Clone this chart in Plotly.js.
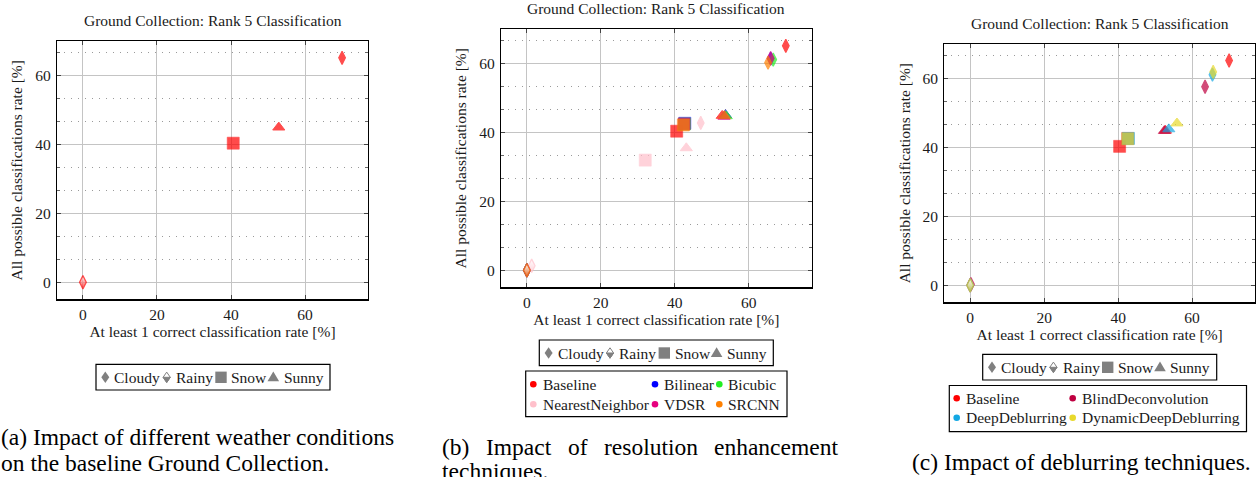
<!DOCTYPE html>
<html>
<head>
<meta charset="utf-8">
<script src="https://cdn.plot.ly/plotly-3.0.1.min.js"></script>
<style>html,body{margin:0;padding:0;background:#fff;}#chart{width:1256px;height:477px;}</style>
</head>
<body>
<div id="chart"></div>
<script>
// ---------------- data ----------------
const weathers = ['Cloudy', 'Rainy', 'Snow', 'Sunny'];
const xTickVals = [0, 20, 40, 60];
const chartTitle = 'Ground Collection: Rank 5 Classification';
const xTitle = 'At least 1 correct classification rate [%]';
const yTitle = 'All possible classifications rate [%]';

// (a) baseline only
const aBaselineX = [70.0, 0.0, 40.6, 52.9];
const aBaselineY = [65.2, 0.0, 40.4, 45.0];

// (b) resolution enhancement
const bMethods = ['Baseline', 'Bilinear', 'Bicubic', 'NearestNeighbor', 'VDSR', 'SRCNN'];
const bBaselineX = [70.0, 0.0, 40.5, 52.8];
const bBaselineY = [65.2, 0.0, 40.4, 44.9];
const bBilinearX = [65.9, 0.0, 42.7, 53.7];
const bBilinearY = [61.5, 0.0, 42.7, 45.1];
const bBicubicX = [66.6, 0.0, 42.6, 53.9];
const bBicubicY = [61.2, 0.0, 42.5, 44.8];
const bNearestX = [47.0, 1.3, 32.0, 43.1];
const bNearestY = [42.8, 1.3, 32.0, 35.5];
const bVDSRX = [65.9, 0.0, 42.5, 53.3];
const bVDSRY = [61.6, 0.0, 42.5, 44.6];
const bSRCNNX = [65.2, 0.0, 42.3, 53.4];
const bSRCNNY = [60.3, 0.0, 42.2, 44.9];

// (c) deblurring
const cMethods = ['Baseline', 'BlindDeconvolution', 'DeepDeblurring', 'DynamicDeepDeblurring'];
const cBaselineX = [70.0, 0.0, 40.4, 52.8];
const cBaselineY = [65.2, 0.0, 40.3, 44.9];
const cBlindX = [63.5, 0.2, 42.6, 52.5];
const cBlindY = [57.6, 0.3, 42.6, 44.8];
const cDeepX = [65.5, 0.0, 42.8, 53.7];
const cDeepY = [61.1, 0.0, 42.6, 45.3];
const cDynamicX = [65.7, 0.0, 42.6, 55.9];
const cDynamicY = [61.9, 0.0, 42.5, 47.0];

const captionA1 = '(a) Impact of different weather conditions';
const captionA2 = 'on the baseline Ground Collection.';
const captionB1 = ['(b)', 'Impact', 'of', 'resolution', 'enhancement'];
const captionB2 = 'techniques.';
const captionC = '(c) Impact of deblurring techniques.';

// ---------------- styles ----------------
const COL = {
  Baseline: '#ff0000', Bilinear: '#0000ff', Bicubic: '#22ee22', NearestNeighbor: '#ffc0cb',
  VDSR: '#e6007e', SRCNN: '#ff8000', BlindDeconvolution: '#bf0040',
  DeepDeblurring: '#13a8e4', DynamicDeepDeblurring: '#e8d92c'
};
const W = 1256, H = 477;
const px = x => x / W, py = y => 1 - y / H;
const FONT = "'Liberation Serif', 'Times New Roman', serif";
const TXT = '#1a1a1a';
const FS = 15.5;
const CFS = 23.5;

// Cloudy: diamond, Rainy: half-filled diamond (gradient), Snow: square, Sunny: triangle
const symbols = ['diamond-tall', 'diamond-tall', 'square', 'triangle-up'];
const sizes = [9.5, 9.5, 12, 10.5];
const lws = [1.2, 1.3, 0.6, 1];

function trace(name, xs, ys, axIdx) {
  const s = axIdx === 1 ? '' : String(axIdx);
  const c = COL[name];
  return {
    type: 'scatter', mode: 'markers', name, x: xs, y: ys, xaxis: 'x' + s, yaxis: 'y' + s,
    showlegend: false, hoverinfo: 'skip', text: weathers,
    marker: {
      symbol: symbols, size: sizes, color: [c, '#ffffff', c, c],
      gradient: { type: ['none', 'vertical', 'none', 'none'], color: c },
      line: { color: c, width: lws }
    }
  };
}

const data = [
  trace('Baseline', aBaselineX, aBaselineY, 1),
  trace('Baseline', bBaselineX, bBaselineY, 2),
  trace('Bilinear', bBilinearX, bBilinearY, 2),
  trace('Bicubic', bBicubicX, bBicubicY, 2),
  trace('NearestNeighbor', bNearestX, bNearestY, 2),
  trace('VDSR', bVDSRX, bVDSRY, 2),
  trace('SRCNN', bSRCNNX, bSRCNNY, 2),
  trace('Baseline', cBaselineX, cBaselineY, 3),
  trace('BlindDeconvolution', cBlindX, cBlindY, 3),
  trace('DeepDeblurring', cDeepX, cDeepY, 3),
  trace('DynamicDeepDeblurring', cDynamicX, cDynamicY, 3)
];

const panels = [
  { l: 57, r: 368, t: 41.3, b: 299.3 },
  { l: 501, r: 811.7, t: 29.3, b: 287.3 },
  { l: 944.3, r: 1255, t: 44, b: 302.3 }
];

function xax(p, anchor) {
  return {
    domain: [px(p.l), px(p.r)], anchor, range: [-7, 77],
    tickmode: 'array', tickvals: xTickVals, ticktext: xTickVals.map(String),
    showgrid: true, gridcolor: '#c4c4c4', gridwidth: 1, zeroline: false,
    showline: true, mirror: 'ticks', linecolor: '#000', linewidth: 1.2,
    ticks: 'inside', ticklen: 4, tickcolor: '#444', tickwidth: 1,
    ticklabelstandoff: 1,
    tickfont: { family: FONT, size: FS, color: TXT },
    title: { text: xTitle, font: { family: FONT, size: FS, color: TXT }, standoff: 3 },
    automargin: false, fixedrange: true
  };
}
function yax(p, anchor) {
  return {
    domain: [py(p.b), py(p.t)], anchor, range: [-4.95, 70],
    tickmode: 'linear', tick0: 0, dtick: 20,
    showgrid: true, gridcolor: '#c4c4c4', gridwidth: 1, zeroline: false,
    showline: true, mirror: 'ticks', linecolor: '#000', linewidth: 1.2,
    ticks: 'inside', ticklen: 4, tickcolor: '#444', tickwidth: 1,
    minor: { tick0: 0, dtick: 20 / 3, showgrid: true, gridcolor: '#9a9a9a', griddash: '1px,6px', gridwidth: 1, ticks: 'inside', ticklen: 3, tickcolor: '#666' },
    ticklabelstandoff: 2,
    tickfont: { family: FONT, size: FS, color: TXT },
    title: { text: yTitle, font: { family: FONT, size: FS, color: TXT }, standoff: 8 },
    automargin: false, fixedrange: true
  };
}

const shapes = [];
const annotations = [];

function text(t, x, y, opts) {
  annotations.push(Object.assign({
    text: t, xref: 'paper', yref: 'paper', x: px(x), y: py(y), xanchor: 'left', yanchor: 'middle',
    showarrow: false, font: { family: FONT, size: FS, color: TXT }
  }, opts || {}));
}
function rect(x0, y0, x1, y1) {
  shapes.push({ type: 'rect', xref: 'paper', yref: 'paper', x0: px(x0), x1: px(x1), y0: py(y1), y1: py(y0),
    line: { color: '#000', width: 1.2 }, fillcolor: 'rgba(0,0,0,0)' });
}
function pathSym(path, cx, cy, fill, lineColor, lw) {
  shapes.push({ type: 'path', xref: 'paper', yref: 'paper', xsizemode: 'pixel', ysizemode: 'pixel',
    xanchor: px(cx), yanchor: py(cy), path, fillcolor: fill,
    line: { color: lineColor || fill, width: lw === undefined ? 0 : lw } });
}
function circleSym(cx, cy, color) {
  shapes.push({ type: 'circle', xref: 'paper', yref: 'paper', xsizemode: 'pixel', ysizemode: 'pixel',
    xanchor: px(cx), yanchor: py(cy), x0: -3.3, x1: 3.3, y0: -3.3, y1: 3.3, fillcolor: color, line: { width: 0 } });
}

const GRAY = '#808080';
function weatherLegend(left, top) {
  const bottom = top + 25.7, cy = top + 13;
  rect(left, top, left + 234, bottom);
  const symOff = [9.3, 70.7, 125, 177.3];
  const txtOff = [16.3, 78, 133.3, 185.7];
  pathSym('M0,5.8 L4,0 L0,-5.8 L-4,0 Z', left + symOff[0], cy, GRAY);
  pathSym('M0,5.2 L3.6,0 L0,-5.2 L-3.6,0 Z', left + symOff[1], cy, '#ffffff', GRAY, 1);
  pathSym('M-3.6,0 L3.6,0 L0,-5.2 Z', left + symOff[1], cy, GRAY, GRAY, 1);
  pathSym('M-5.7,-5.7 L5.7,-5.7 L5.7,5.7 L-5.7,5.7 Z', left + symOff[2], cy, GRAY);
  pathSym('M-5.8,-4 L5.8,-4 L0,5.8 Z', left + symOff[3], cy, GRAY);
  weathers.forEach((w, i) => text(w, left + txtOff[i], cy));
}
weatherLegend(96, 364.3);
weatherLegend(539.3, 340);
weatherLegend(982.7, 354.3);

rect(525.7, 371, 787, 416.7);
const bCols = [[533.3, 540.7], [655, 661.7], [719.3, 726]];
bMethods.forEach((m, i) => {
  const row = Math.floor(i / 3), col = i % 3;
  const cy = row === 0 ? 384.3 : 404.3;
  circleSym(bCols[col][0], cy, COL[m]);
  text(m, bCols[col][1], cy);
});
rect(949.3, 385.5, 1246.5, 431.7);
const cCols = [[956.7, 964], [1072.7, 1080]];
cMethods.forEach((m, i) => {
  const row = Math.floor(i / 2), col = i % 2;
  const cy = row === 0 ? 398.3 : 417.7;
  circleSym(cCols[col][0], cy, COL[m]);
  text(m, cCols[col][1], cy);
});

text(chartTitle, 212.5, 20.7, { xanchor: 'center' });
text(chartTitle, 656.3, 9, { xanchor: 'center' });
text(chartTitle, 1099.7, 24, { xanchor: 'center' });

const CF = { family: FONT, size: CFS, color: '#000' };
text(captionA1, -1, 437, { font: CF });
text(captionA2, -1.5, 462.5, { font: CF });
(function () {
  const left = 440, right = 836;
  const ctx = document.createElement('canvas').getContext('2d');
  ctx.font = CFS + "px 'Liberation Serif', 'Times New Roman', serif";
  const wds = captionB1.map(w => ctx.measureText(w).width);
  const total = wds.reduce((a, b) => a + b, 0);
  const gap = (right - left - total) / (captionB1.length - 1);
  let x = left;
  captionB1.forEach((w, i) => { text(w, x, 447, { font: CF }); x += wds[i] + gap; });
})();
text(captionB2, 440, 471, { font: CF });
text(captionC, 910, 461.7, { font: CF });

const layout = {
  width: W, height: H, margin: { l: 0, r: 0, t: 0, b: 0 },
  paper_bgcolor: '#fff', plot_bgcolor: '#fff', showlegend: false,
  xaxis: xax(panels[0], 'y'), yaxis: yax(panels[0], 'x'),
  xaxis2: xax(panels[1], 'y2'), yaxis2: yax(panels[1], 'x2'),
  xaxis3: xax(panels[2], 'y3'), yaxis3: yax(panels[2], 'x3'),
  shapes, annotations
};

Plotly.newPlot('chart', data, layout, { displayModeBar: false, staticPlot: true });
</script>
</body>
</html>
